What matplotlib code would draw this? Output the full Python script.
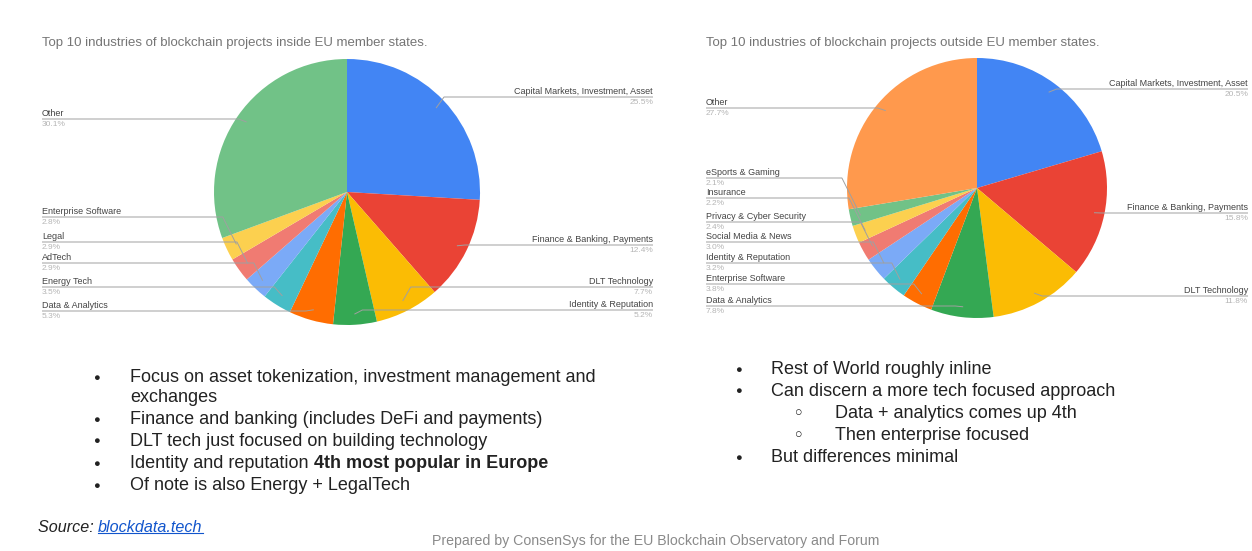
import numpy as np
import matplotlib.pyplot as plt
from matplotlib.lines import Line2D

plt.rcParams['font.family'] = ['Liberation Sans', 'DejaVu Sans']

W, H = 1252, 551

# inside EU member states
eu_labels = ["Capital Markets, Investment, Asset", "Finance & Banking, Payments", "DLT Technology",
             "Identity & Reputation", "Data & Analytics", "Energy Tech", "AdTech", "Legal",
             "Enterprise Software", "Other"]
eu_values = [25.5, 12.4, 7.7, 5.2, 5.3, 3.5, 2.9, 2.9, 2.8, 30.1]

# outside EU member states
row_labels = ["Capital Markets, Investment, Asset", "Finance & Banking, Payments", "DLT Technology",
              "Data & Analytics", "Enterprise Software", "Identity & Reputation",
              "Social Media & News", "Privacy & Cyber Security", "Insurance",
              "eSports & Gaming", "Other"]
row_values = [20.5, 15.8, 11.8, 7.8, 3.8, 3.2, 3.0, 2.4, 2.2, 2.1, 27.7]

colors = ['#4285F4', '#EA4335', '#FBBC04', '#34A853', '#FF6D01', '#46BDC6',
          '#7BAAF7', '#F07B72', '#FCD04F', '#71C287', '#FF994D']

# label line heights (pixels from top) and side
eu_label_y = [97, 245, 287, 310, 311, 287, 263, 242, 217, 119]
eu_sides = ['r', 'r', 'r', 'r', 'l', 'l', 'l', 'l', 'l', 'l']
row_label_y = [89, 213, 296, 306, 284, 263, 242, 222, 198, 178, 108]
row_sides = ['r', 'r', 'r', 'l', 'l', 'l', 'l', 'l', 'l', 'l', 'l']


def Y(py):
    return H - py


def draw_pie(ax, values, labels, cx, cy, r, label_y, sides, x_left, x_right):
    ax.pie(values, colors=colors[:len(values)], startangle=90, counterclock=False,
           center=(cx, Y(cy)), radius=r, wedgeprops=dict(linewidth=0))
    total = sum(values)
    start = 0
    for v, name, ly, side in zip(values, labels, label_y, sides):
        mid = (start + v / 2) / total * 2 * np.pi
        start += v
        px = cx + 0.92 * r * np.sin(mid)
        py = cy - 0.92 * r * np.cos(mid)
        sgn = 1 if side == 'r' else -1
        bx = px + sgn * max(8, 0.5 * abs(ly - py))
        end = x_right if side == 'r' else x_left
        ax.plot([px, bx, end], [Y(py), Y(ly), Y(ly)], color='#a0a0a0', lw=0.7,
                solid_capstyle='butt')
        ha = 'right' if side == 'r' else 'left'
        ax.text(end, Y(ly - 1), name, ha=ha, va='bottom', fontsize=6.5, color='#444444')
        ax.text(end, Y(ly + 2), f"{v:.1f}%", ha=ha, va='top', fontsize=6, color='#b5b5b5')


fig = plt.figure(figsize=(W / 100, H / 100), dpi=100)
ax = fig.add_axes([0, 0, 1, 1])

draw_pie(ax, eu_values, eu_labels, 347, 192, 133, eu_label_y, eu_sides, 42, 653)
draw_pie(ax, row_values, row_labels, 977, 188, 130, row_label_y, row_sides, 706, 1248)

ax.set_xlim(0, W)
ax.set_ylim(0, H)
ax.set_aspect('equal')
ax.axis('off')

ax.text(42, Y(43), "Top 10 industries of blockchain projects inside EU member states.",
        fontsize=9.5, color='#757575', va='center')
ax.text(706, Y(43), "Top 10 industries of blockchain projects outside EU member states.",
        fontsize=9.5, color='#757575', va='center')

# bullet notes
fs = 13
dark = '#222222'
left_notes = [
    ('●', "Focus on asset tokenization, investment management and", 378),
    (None, "exchanges", 398),
    ('●', "Finance and banking (includes DeFi and payments)", 420),
    ('●', "DLT tech just focused on building technology", 441),
    ('●', "Identity and reputation ", 464),
    ('●', "Of note is also Energy + LegalTech", 486),
]
for b, txt, y in left_notes:
    if b:
        ax.text(93, Y(y), b, fontsize=8, color=dark, va='center')
    t = ax.text(130, Y(y), txt, fontsize=fs, color=dark, va='center')
    if txt.startswith("Identity"):
        ax.annotate("4th most popular in Europe", xy=(1, 0), xycoords=t, va='bottom',
                    ha='left', fontsize=fs, fontweight='bold', color=dark)

right_notes = [
    ('●', 735, 771, "Rest of World roughly inline", 370),
    ('●', 735, 771, "Can discern a more tech focused approach", 391),
    ('○', 795, 835, "Data + analytics comes up 4th", 413),
    ('○', 795, 835, "Then enterprise focused", 435),
    ('●', 735, 771, "But differences minimal", 458),
]
for b, bx, tx, txt, y in right_notes:
    ax.text(bx, Y(y), b, fontsize=8 if b == '●' else 9, color=dark, va='center')
    ax.text(tx, Y(y), txt, fontsize=fs, color=dark, va='center')

src = ax.text(38, Y(528), "Source: ", fontsize=11.6, style='italic', color=dark, va='center')
link = ax.annotate("blockdata.tech", xy=(1, 0), xycoords=src, va='bottom', ha='left',
                   fontsize=11.6, style='italic', color='#1155cc')

ax.text(656, Y(541), "Prepared by ConsenSys for the EU Blockchain Observatory and Forum",
        fontsize=10.2, color='#8a8a8a', ha='center', va='center')

fig.canvas.draw()
bb = link.get_window_extent().transformed(fig.transFigure.inverted())
uy = bb.y0 + 0.004
fig.add_artist(Line2D([bb.x0, bb.x1], [uy, uy], color='#1155cc', lw=0.8,
                      transform=fig.transFigure))

fig.savefig('out.png', dpi=100, facecolor='white')
